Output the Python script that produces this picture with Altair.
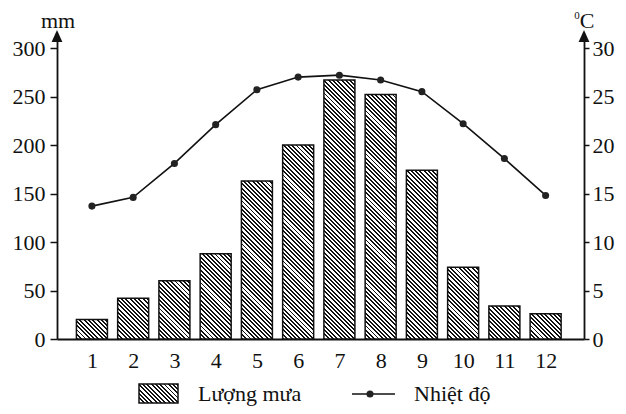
import altair as alt

# ---- data ----
months = [1, 2, 3, 4, 5, 6, 7, 8, 9, 10, 11, 12]
rain = [20, 42, 60, 88, 163, 200, 267, 252, 174, 74, 34, 26]          # mm
temp = [13.7, 14.6, 18.1, 22.1, 25.7, 27.0, 27.2, 26.7, 25.5, 22.2, 18.6, 14.8]  # °C
rain_ticks = [0, 50, 100, 150, 200, 250, 300]
temp_ticks = [0, 5, 10, 15, 20, 25, 30]
rain_label = "Lượng mưa"
temp_label = "Nhiệt độ"
left_unit = "mm"
right_unit = "C"
right_unit_sup = "0"

# ---- layout / style ----
FONT = "Liberation Serif"
INK = "#111111"
W, H = 527, 300
RAIN_MAX = 309.28
TEMP_MAX = 30.928
X_DOMAIN = [0.2746, 12.809]
BAR_W = 31
PX_PER_MM = H / RAIN_MAX
PERIOD = 4.3
DUTY = 0.45


def hatch(w, h):
    """Diagonal '\\' hatch as a striped linear gradient in bounding-box units."""
    total = w + h
    t = total / (w * w + h * h)
    stops = []
    k = 0
    while k * PERIOD < total:
        a = k * PERIOD / total
        b = min((k * PERIOD + PERIOD * DUTY) / total, 1.0)
        c = min((k + 1) * PERIOD / total, 1.0)
        stops += [
            {"offset": round(a, 5), "color": INK},
            {"offset": round(b, 5), "color": INK},
            {"offset": round(b, 5), "color": "#ffffff"},
            {"offset": round(c, 5), "color": "#ffffff"},
        ]
        k += 1
    return {"gradient": "linear", "x1": 0, "y1": 1, "x2": w * t, "y2": 1 - h * t, "stops": stops}


records = []
for m, r, tv in zip(months, rain, temp):
    records.append({"month": m, "rain": r, "temp": tv, "hatch": hatch(BAR_W, r * PX_PER_MM)})
data = alt.Data(values=records)

x_enc = alt.X(
    "month:Q",
    scale=alt.Scale(domain=X_DOMAIN, nice=False, zero=False),
    axis=alt.Axis(
        values=months, ticks=False, grid=False, labelPadding=11, domainWidth=1.8,
        domainColor=INK, labelFontSize=22, labelFont=FONT, labelColor=INK,
        title=None, format="d", labelFlush=False, labelOverlap=False,
    ),
)

bars = alt.Chart(data).mark_bar(size=BAR_W, stroke=INK, strokeWidth=1.5).encode(
    x=x_enc,
    y=alt.Y(
        "rain:Q", stack=None,
        scale=alt.Scale(domain=[0, RAIN_MAX], nice=False),
        axis=alt.Axis(
            values=rain_ticks, orient="left", tickSize=7, tickWidth=1.5, tickColor=INK,
            domainWidth=1.8, domainColor=INK, labelPadding=5, labelFontSize=22,
            labelFont=FONT, labelColor=INK, grid=False, title=None, labelFlush=False,
        ),
    ),
    fill=alt.Fill("hatch:N", scale=None),
)

y_temp = alt.Y(
    "temp:Q",
    scale=alt.Scale(domain=[0, TEMP_MAX], nice=False),
    axis=alt.Axis(
        values=temp_ticks, orient="right", tickSize=5, tickWidth=1.5, tickColor=INK,
        domainWidth=1.8, domainColor=INK, labelPadding=3, labelFontSize=22,
        labelFont=FONT, labelColor=INK, grid=False, title=None, labelFlush=False,
    ),
)
line = alt.Chart(data).mark_line(color=INK, strokeWidth=1.6).encode(x=x_enc, y=y_temp)
pts = alt.Chart(data).mark_point(filled=True, color="#222222", size=50, opacity=1).encode(
    x=x_enc, y=alt.Y("temp:Q")
)

one = alt.Data(values=[{"k": 0}])


def txt(s, x, y, size=22, align="left", baseline="alphabetic"):
    return alt.Chart(one).mark_text(
        text=s, font=FONT, fontSize=size, align=align, baseline=baseline, color=INK
    ).encode(x=alt.value(x), y=alt.value(y))


ARROW = "M0,-1L0.9,1L-0.9,1Z"


def arrow(x):
    return alt.Chart(one).mark_point(
        shape=ARROW, filled=True, size=144, color=INK, opacity=1
    ).encode(x=alt.value(x), y=alt.value(-3))


swatch = alt.Chart(one).mark_rect(fill=hatch(39, 19), stroke=INK, strokeWidth=1.5).encode(
    x=alt.value(82), x2=alt.value(121), y=alt.value(345), y2=alt.value(364)
)
leg_line = alt.Chart(one).mark_rule(color=INK, strokeWidth=1.6).encode(
    x=alt.value(295), x2=alt.value(338), y=alt.value(355)
)
leg_dot = alt.Chart(one).mark_point(filled=True, color="#222222", size=50, opacity=1).encode(
    x=alt.value(313), y=alt.value(355)
)

decos = [
    arrow(0), arrow(W),
    txt(left_unit, 1, -11.5, size=22, align="center"),
    txt(right_unit, 530, -11.5, size=22, align="center"),
    txt(right_unit_sup, 520, -20.5, size=11, align="center"),
    swatch, txt(rain_label, 141, 362),
    leg_line, leg_dot, txt(temp_label, 357, 362),
]

chart = (
    alt.layer(bars, alt.layer(line, pts), *decos)
    .resolve_scale(y="independent")
    .properties(
        width=W, height=H,
        padding={"left": 49, "top": 31, "right": 34, "bottom": 67},
        autosize=alt.AutoSizeParams(type="none"),
        background="white",
    )
    .configure_view(stroke=None)
)

chart.save("out.html", embed_options={"renderer": "svg", "actions": False})
